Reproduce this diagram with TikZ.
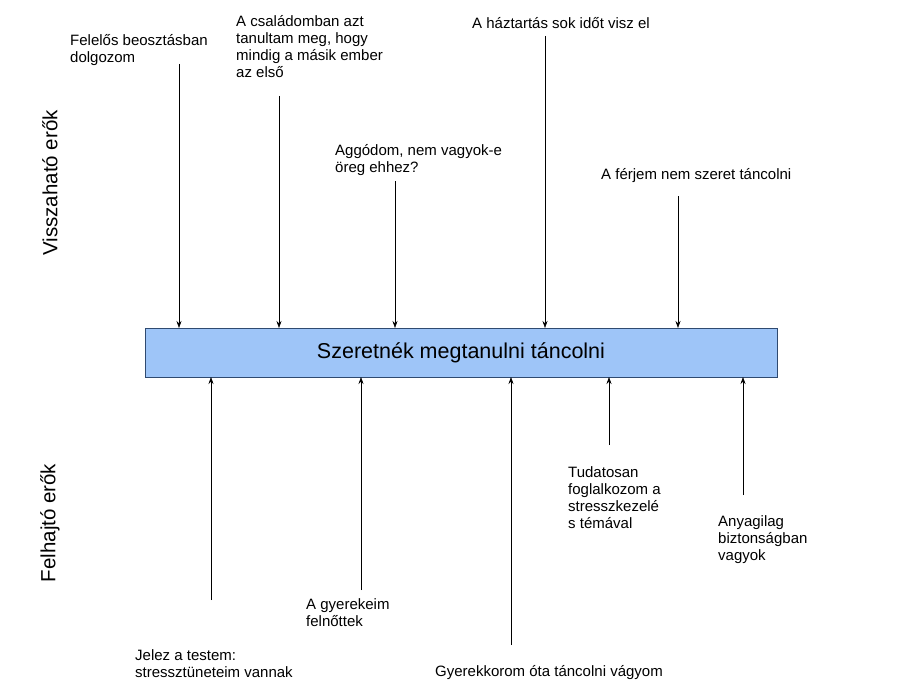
\documentclass[tikz,border=0pt]{standalone}
\usepackage{fontspec}
\setmainfont{Liberation Sans}
\usetikzlibrary{arrows.meta}
\definecolor{boxfill}{HTML}{9EC5F8}
\definecolor{boxdraw}{HTML}{2F4A70}
\begin{document}
\begin{tikzpicture}[x=1pt,y=-1pt,
  lbl/.style={anchor=north west,inner sep=0pt,align=left,font=\fontsize{15}{17}\selectfont},
  arr/.style={-{Stealth[length=7pt,width=5pt]},line width=0.6pt},
  side/.style={rotate=90,font=\fontsize{20.5}{22}\selectfont}]
\useasboundingbox (0,0) rectangle (920,690);
\node[draw=boxdraw,fill=boxfill,minimum width=632pt,minimum height=49pt,inner sep=0pt,font=\fontsize{21.5}{24}\selectfont] (box) at (461,352.5) {Szeretnék megtanulni táncolni};
\node[side] (v) at (50,183) {Visszaható erők};
\node[side] (f) at (50,523) {Felhajtó erők};
% top
\coordinate (t1) at (179,64); \coordinate (b1) at (179,328);
\coordinate (t2) at (279,96); \coordinate (b2) at (279,328);
\coordinate (t3) at (395,181); \coordinate (b3) at (395,328);
\coordinate (t4) at (545,36); \coordinate (b4) at (545,328);
\coordinate (t5) at (678,196); \coordinate (b5) at (678,328);
\foreach \i in {1,...,5} \draw[arr] (t\i) -- (b\i);
\node[lbl] (l1) at (70,34) {Felelős beosztásban\\dolgozom};
\node[lbl] (l2) at (236,15) {A családomban azt\\tanultam meg, hogy\\mindig a másik ember\\az első};
\node[lbl] (l3) at (335,144) {Aggódom, nem vagyok-e\\öreg ehhez?};
\node[lbl] (l4) at (472,17) {A háztartás sok időt visz el};
\node[lbl] (l5) at (601,168) {A férjem nem szeret táncolni};
% bottom
\coordinate (s1) at (211,600); \coordinate (e1) at (211,377);
\coordinate (s2) at (361,590); \coordinate (e2) at (361,377);
\coordinate (s3) at (511,645); \coordinate (e3) at (511,377);
\coordinate (s4) at (609,445); \coordinate (e4) at (609,377);
\coordinate (s5) at (743,495); \coordinate (e5) at (743,377);
\foreach \i in {1,...,5} \draw[arr] (s\i) -- (e\i);
\node[lbl] (m1) at (135,649) {Jelez a testem:\\stresszt\"uneteim vannak};
\node[lbl] (m2) at (306,598) {A gyerekeim\\felnőttek};
\node[lbl] (m3) at (435,665) {Gyerekkorom óta táncolni vágyom};
\node[lbl] (m4) at (568,466) {Tudatosan\\foglalkozom a\\stresszkezelé\\s témával};
\node[lbl] (m5) at (718,515) {Anyagilag\\biztonságban\\vagyok};
\end{tikzpicture}
\end{document}
